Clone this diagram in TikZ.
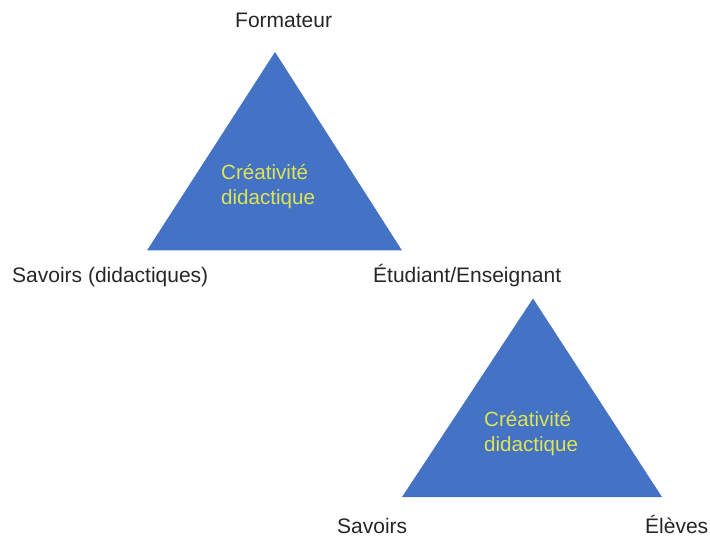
\documentclass[tikz,border=0pt]{standalone}
\usepackage{fontspec}
\setmainfont{Liberation Sans}
\definecolor{triblue}{RGB}{68,114,196}
\definecolor{triyellow}{RGB}{222,228,82}
\definecolor{labelgray}{RGB}{38,38,38}
\begin{document}
\begin{tikzpicture}[x=1pt,y=-1pt,
  tri/.style={fill=triblue,draw=none},
  lbl/.style={anchor=base west,inner sep=0pt,text=labelgray,font=\fontsize{21}{25}\selectfont},
  inner/.style={anchor=base west,inner sep=0pt,text=triyellow,font=\fontsize{20.6}{25}\selectfont}]
\useasboundingbox (0,0) rectangle (710,537);
% triangle 1
\coordinate (t1a) at (275,52);
\coordinate (t1l) at (147,250.5);
\coordinate (t1r) at (402,250.5);
\fill[tri] (t1a) -- (t1l) -- (t1r) -- cycle;
% triangle 2
\coordinate (t2a) at (533,298.5);
\coordinate (t2l) at (402,497);
\coordinate (t2r) at (662,497);
\fill[tri] (t2a) -- (t2l) -- (t2r) -- cycle;
% inner texts
\node[inner] (c1a) at (221,180) {Créativité};
\node[inner] (c1b) at (221,205) {didactique};
\node[inner] (c2a) at (484,426) {Créativité};
\node[inner] (c2b) at (484,451) {didactique};
% labels
\node[lbl] (form) at (235,28) {Formateur};
\node[lbl] (sav1) at (12,283) {Savoirs (didactiques)};
\node[lbl] (etud) at (373,283) {Étudiant/Enseignant};
\node[lbl] (sav2) at (337,533) {Savoirs};
\node[lbl] (elev) at (645,533) {Élèves};
\end{tikzpicture}
\end{document}
